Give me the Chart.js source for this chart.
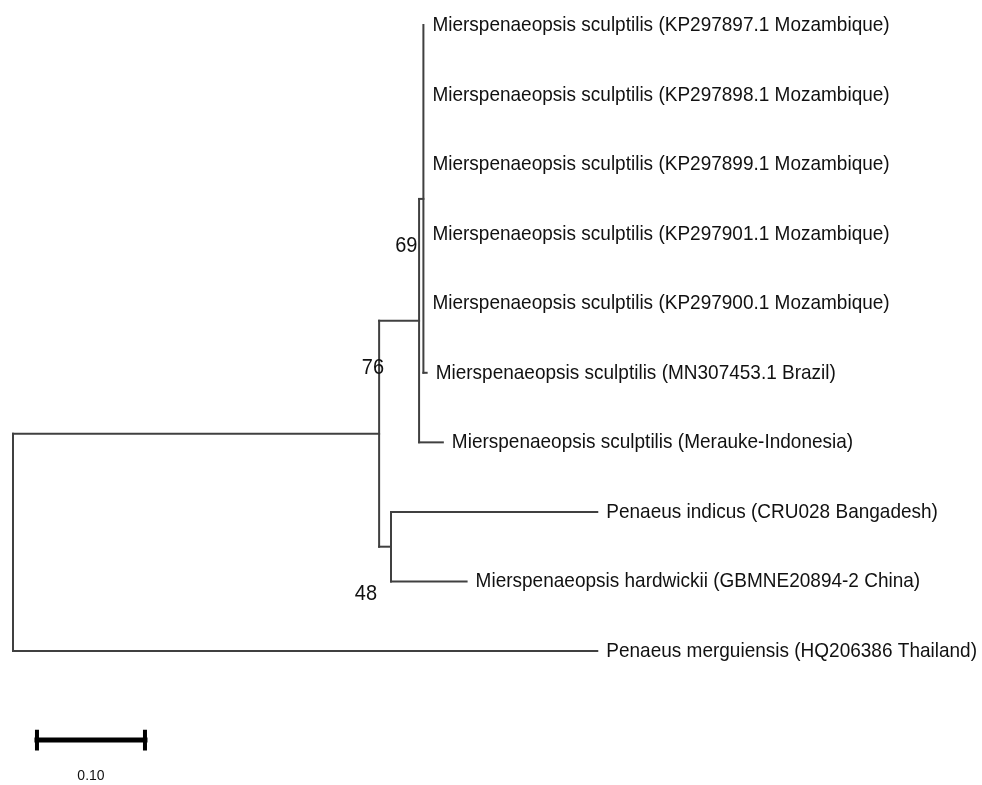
<!DOCTYPE html>
<html>
<head>
<meta charset="utf-8">
<script src="https://cdn.jsdelivr.net/npm/chart.js@4/dist/chart.umd.min.js"></script>
<style>
  html, body { margin: 0; padding: 0; background: #fff; }
  #wrap { width: 982px; height: 785px; }
</style>
</head>
<body>
<div id="wrap"><canvas id="tree" width="982" height="785"></canvas></div>
<script>
// tips, listed top to bottom (row = index)
const tipLabels = [
    'Mierspenaeopsis sculptilis (KP297897.1 Mozambique)',
    'Mierspenaeopsis sculptilis (KP297898.1 Mozambique)',
    'Mierspenaeopsis sculptilis (KP297899.1 Mozambique)',
    'Mierspenaeopsis sculptilis (KP297901.1 Mozambique)',
    'Mierspenaeopsis sculptilis (KP297900.1 Mozambique)',
    'Mierspenaeopsis sculptilis (MN307453.1 Brazil)',
    'Mierspenaeopsis sculptilis (Merauke-Indonesia)',
    'Penaeus indicus (CRU028 Bangadesh)',
    'Mierspenaeopsis hardwickii (GBMNE20894-2 China)',
    'Penaeus merguiensis (HQ206386 Thailand)'
];
// distance of each tip from the root
const tipDepth = [0.380, 0.380, 0.380, 0.380, 0.380, 0.383, 0.398, 0.541, 0.420, 0.541];
// internal node each tip hangs from
const tipParent = [3, 3, 3, 3, 3, 3, 2, 4, 4, 0];

// internal nodes: 0 = root
const nodeParent = [-1, 0, 1, 2, 1];
const nodeDepth = [0, 0.339, 0.376, 0.380, 0.350];
const nodeSupport = [null, 76, null, 69, 48];

const scaleBarLength = 0.10;

// y of every node = middle of its first and last child
const nodeY = [];
const nodeSpan = [];
function layoutNode(n) {
    const ys = [];
    tipParent.forEach((p, i) => { if (p === n) ys.push(i); });
    nodeParent.forEach((p, i) => { if (p === n) ys.push(layoutNode(i)); });
    const lo = Math.min(...ys), hi = Math.max(...ys);
    nodeSpan[n] = [lo, hi];
    nodeY[n] = (lo + hi) / 2;
    return nodeY[n];
}
layoutNode(0);

const lineColor = '#404040';
const datasets = [];
function seg(pts, w, color) {
    datasets.push({
        data: pts, showLine: true, pointRadius: 0,
        borderColor: color || lineColor, borderWidth: w || 2,
        borderCapStyle: 'square', fill: false
    });
}

// vertical bars at internal nodes
nodeDepth.forEach((d, n) => {
    const [lo, hi] = nodeSpan[n];
    seg([{ x: d, y: lo }, { x: d, y: hi }]);
});
// horizontal branches to internal nodes
nodeParent.forEach((p, n) => {
    if (p < 0) return;
    seg([{ x: nodeDepth[p], y: nodeY[n] }, { x: nodeDepth[n], y: nodeY[n] }]);
});
// horizontal branches to tips
tipDepth.forEach((d, i) => {
    const p = tipParent[i];
    if (d - nodeDepth[p] > 0.0005) seg([{ x: nodeDepth[p], y: i }, { x: d, y: i }]);
});

// scale bar
const barX = 0.0222, barY = 10.28;
seg([{ x: barX, y: barY }, { x: barX + scaleBarLength, y: barY }], 5, '#000');
seg([{ x: barX, y: barY - 0.12 }, { x: barX, y: barY + 0.12 }], 4, '#000');
seg([{ x: barX + scaleBarLength, y: barY - 0.12 }, { x: barX + scaleBarLength, y: barY + 0.12 }], 4, '#000');

// text is a little taller than plain Arial in the original
function tallText(ctx, t, x, y, sy) {
    ctx.save();
    ctx.translate(x, y);
    ctx.scale(1, sy);
    ctx.fillText(t, 0, 0);
    ctx.restore();
}

const textPlugin = {
    id: 'treeText',
    afterDatasetsDraw(chart) {
        const ctx = chart.ctx;
        const xs = chart.scales.x, ys = chart.scales.y;
        ctx.save();
        ctx.fillStyle = '#111';
        ctx.textBaseline = 'alphabetic';

        // tip labels
        ctx.font = '19px "Liberation Sans", Arial, sans-serif';
        ctx.textAlign = 'left';
        tipLabels.forEach((t, i) => {
            tallText(ctx, t, xs.getPixelForValue(tipDepth[i]) + 9, ys.getPixelForValue(i) + 6, 1.04);
        });

        // bootstrap values
        const supportOffset = { 1: [5, -60], 3: [-6, 53], 4: [-14, 53] };
        ctx.font = '20px "Liberation Sans", Arial, sans-serif';
        ctx.textAlign = 'right';
        nodeSupport.forEach((v, n) => {
            if (v == null) return;
            const [dx, dy] = supportOffset[n];
            tallText(ctx, String(v), xs.getPixelForValue(nodeDepth[n]) + dx, ys.getPixelForValue(nodeY[n]) + dy, 1.08);
        });

        // scale label
        ctx.font = '14px "Liberation Sans", Arial, sans-serif';
        ctx.textAlign = 'center';
        tallText(ctx, scaleBarLength.toFixed(2), xs.getPixelForValue(barX + scaleBarLength / 2), ys.getPixelForValue(barY) + 40, 1.08);
        ctx.restore();
    }
};

new Chart(document.getElementById('tree'), {
    type: 'scatter',
    data: { datasets },
    options: {
        responsive: false,
        animation: false,
        layout: { padding: 0 },
        plugins: { legend: { display: false }, tooltip: { enabled: false } },
        scales: {
            x: { type: 'linear', min: -13 / 1080, max: 969 / 1080, display: false },
            y: { type: 'linear', min: -25 / 69.56, max: 760 / 69.56, reverse: true, display: false }
        }
    },
    plugins: [textPlugin]
});
</script>
</body>
</html>
